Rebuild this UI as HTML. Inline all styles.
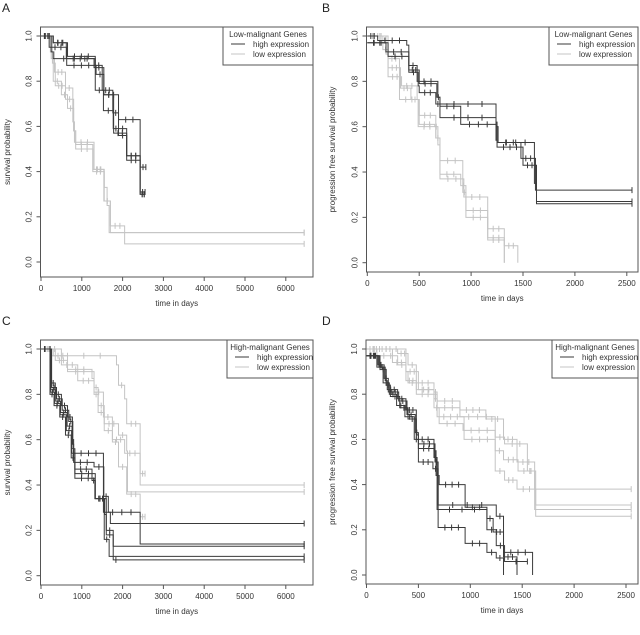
<!DOCTYPE html>
<html><head><meta charset="utf-8">
<style>
html,body{margin:0;padding:0;background:#fff;}
svg{display:block;font-family:"Liberation Sans",sans-serif;}
</style></head>
<body>
<svg id="fig" width="640" height="635" viewBox="0 0 640 635"></svg>
<script>
// ---------- DATA ----------
const aHighTimes = [[0,300,650,1330,1500,1760,1900,2100,2430],[0,250,300,1330,1530,1770,1900,2100,2430],[0,200,630,1350,1540,1900,2430],[0,300,620,1300,1540,1780,2100,2430]];
const aHighSurv  = [[1,0.97,0.91,0.87,0.76,0.66,0.59,0.47,0.30],[1,0.93,0.90,0.76,0.67,0.59,0.56,0.45,0.30],[1,0.95,0.87,0.83,0.74,0.63,0.31],[1,0.97,0.90,0.86,0.74,0.57,0.47,0.42]];
const aHighEnd   = [2530,2530,2550,2570];
const aLowTimes  = [[0,250,300,500,650,800,850,1270,1540,1700,2050],[0,230,330,600,780,820,1300,1550,1620,1670],[0,280,350,600,800,850,1270,1550,1700]];
const aLowSurv   = [[1,0.90,0.80,0.74,0.68,0.58,0.52,0.41,0.27,0.16,0.08],[1,0.93,0.84,0.77,0.62,0.53,0.41,0.33,0.25,0.13],[1,0.88,0.78,0.72,0.58,0.50,0.40,0.27,0.13]];
const aLowEnd    = [6450,6450,6450];
const bHighTimes = [[0,180,400,480,680,700,1240,1250,1610,1630],[0,200,400,490,500,660,700,1240,1250,1500,1630],[0,100,380,400,500,670,700,900,1240,1260,1480,1620]];
const bHighSurv  = [[0.97,0.93,0.87,0.80,0.73,0.70,0.62,0.53,0.35,0.26],[0.97,0.91,0.84,0.78,0.75,0.70,0.64,0.54,0.51,0.43,0.27],[1,0.98,0.96,0.85,0.79,0.73,0.69,0.61,0.60,0.53,0.46,0.32]];
const bHighEnd   = [2550,2550,2550];
const bLowTimes  = [[0,150,200,320,420,500,650,680,700,900,950,1160,1320],[0,180,200,330,480,500,660,700,920,950,1160,1320,1450],[0,200,310,490,660,700,930,1160,1320]];
const bLowSurv   = [[1,0.94,0.86,0.77,0.72,0.61,0.60,0.52,0.39,0.34,0.23,0.11,0],[1,0.92,0.82,0.78,0.72,0.65,0.55,0.45,0.31,0.20,0.10,0.075,0],[1,0.90,0.72,0.60,0.55,0.37,0.29,0.15,0]];
const bLowEnd    = [1320,1450,1320];
const cHighTimes = [[0,180,250,350,500,650,770,800,1530,2430],[0,180,260,380,520,680,780,800,1300,1540,1650,1700],[0,180,240,360,480,640,760,830,1250,1330,1560,1600,1770],[0,180,230,330,470,620,750,830,1330,1550,1670],[0,180,220,320,460,600,740,830,1320,1600,1770,1900]];
const cHighSurv  = [[1,1,0.85,0.80,0.75,0.70,0.60,0.54,0.28,0.14],[1,1,0.83,0.78,0.73,0.68,0.58,0.50,0.48,0.35,0.28,0.23],[1,1,0.82,0.77,0.72,0.66,0.56,0.47,0.42,0.34,0.27,0.20,0.13],[1,1,0.81,0.76,0.71,0.64,0.54,0.45,0.34,0.16,0.085],[1,1,0.80,0.75,0.70,0.62,0.52,0.43,0.34,0.18,0.07,0.07]];
const cHighEnd   = [6450,6450,6450,6450,6450];
const cLowTimes  = [[0,250,1850,1900,2050,2100,2430],[0,350,650,1250,1300,1400,1550,1900,2100,2120],[0,500,900,1300,1400,1550,1750,1900,2100,2430],[0,300,650,1250,1300,1530,1750,2050,2430]];
const cLowSurv   = [[1,0.97,0.93,0.84,0.78,0.67,0.40],[1,0.95,0.90,0.87,0.80,0.75,0.67,0.62,0.55,0.37],[1,0.93,0.86,0.83,0.72,0.64,0.59,0.48,0.36,0.26],[1,0.97,0.91,0.90,0.81,0.70,0.60,0.54,0.45]];
const cLowEnd    = [6450,6450,2550,2550];
const dHighTimes = [[0,120,180,200,300,380,480,500,650,670,700,950,1160,1220,1320,1450],[0,110,170,210,310,390,470,500,660,690,1250,1320,1600],[0,100,160,220,290,370,460,500,640,690,950,1160,1250,1320],[0,130,190,230,320,400,480,650,680,1160,1250,1330]];
const dHighSurv  = [[0.97,0.92,0.86,0.82,0.78,0.73,0.62,0.56,0.55,0.44,0.40,0.30,0.25,0.19,0.08,0],[0.97,0.93,0.87,0.81,0.77,0.71,0.63,0.58,0.50,0.31,0.26,0.10,0],[0.97,0.92,0.85,0.80,0.75,0.70,0.60,0.50,0.47,0.21,0.14,0.10,0.075,0],[0.97,0.91,0.84,0.79,0.74,0.69,0.60,0.52,0.29,0.20,0.13,0.06]];
const dHighEnd   = [1450,1600,1320,1550];
const dLowTimes  = [[0,100,300,380,400,480,650,680,900,1150,1320,1450,1620],[0,250,380,480,650,700,930,1240,1330,1550,1620],[0,380,500,650,680,940,1240,1330,1450,1630],[0,300,400,480,650,680,900,1240,1320,1460,1630]];
const dLowSurv   = [[1,0.97,0.93,0.90,0.85,0.82,0.81,0.77,0.73,0.69,0.60,0.50,0.38],[1,0.94,0.86,0.80,0.74,0.67,0.64,0.61,0.58,0.46,0.29],[1,0.90,0.82,0.80,0.70,0.60,0.46,0.42,0.38,0.26],[1,0.98,0.93,0.85,0.78,0.74,0.70,0.55,0.51,0.46,0.31]];
const dLowEnd    = [2550,2550,2550,2550];
const xTicksLong  = [0,1000,2000,3000,4000,5000,6000];
const xTicksShort = [0,500,1000,1500,2000,2500];
const yTicks = [0,0.2,0.4,0.6,0.8,1.0];
const yTickLabels = ["0.0","0.2","0.4","0.6","0.8","1.0"];

// ---------- LAYOUT ----------
const NS = "http://www.w3.org/2000/svg";
const svg = document.getElementById('fig');
function mk(tag, attrs, parent){ const e=document.createElementNS(NS,tag); for(const k in attrs) e.setAttribute(k,attrs[k]); (parent||svg).appendChild(e); return e; }
const DARK="#3a3a3a", LIGHT="#c4c4c4";

const panels = [
 {id:'a', letter:'A', box:[40.5,27,313,277], x0:41, xs:40.8/1000, y1:36, y0:262, xt:xTicksLong, ylab:'survival probability', ylx:10, title:'Low-malignant Genes', leg:[223,27,313,65], hT:aHighTimes,hS:aHighSurv,hE:aHighEnd,lT:aLowTimes,lS:aLowSurv,lE:aLowEnd},
 {id:'b', letter:'B', box:[366.5,27,638,272], x0:367.3, xs:51.9/500, y1:36, y0:262.7, xt:xTicksShort, ylab:'progression free survival probability', ylx:335, title:'Low-malignant Genes', leg:[549,27,638,65], hT:bHighTimes,hS:bHighSurv,hE:bHighEnd,lT:bLowTimes,lS:bLowSurv,lE:bLowEnd},
 {id:'c', letter:'C', box:[40.5,340,313,585], x0:41, xs:40.8/1000, y1:349, y0:575.7, xt:xTicksLong, ylab:'survival probability', ylx:10, title:'High-malignant Genes', leg:[227,340,313,378], hT:cHighTimes,hS:cHighSurv,hE:cHighEnd,lT:cLowTimes,lS:cLowSurv,lE:cLowEnd},
 {id:'d', letter:'D', box:[366,340,638,584], x0:366.5, xs:51.9/500, y1:349, y0:575, xt:xTicksShort, ylab:'progression free survival probability', ylx:335, title:'High-malignant Genes', leg:[552,340,638,378], hT:dHighTimes,hS:dHighSurv,hE:dHighEnd,lT:dLowTimes,lS:dLowSurv,lE:dLowEnd}
];

panels.forEach(p=>{
  const g = mk('g',{});
  
  
  const X = t => p.x0 + t*p.xs;
  const Y = s => p.y0 + s*(p.y1-p.y0);
  const [bx1,by1,bx2,by2]=p.box;
  const lt = mk('text',{x:bx1===40.5?2:322,y:by1-15,'font-size':12,fill:'#222'},g);
  lt.textContent=p.letter;
  
  

  function drawCurve(times, surv, end, color, name){
    let d = 'M'+X(times[0])+','+Y(surv[0]);
    for(let i=1;i<times.length;i++){ d+=' H'+X(times[i])+' V'+Y(surv[i]); }
    const last=surv[surv.length-1];
    if(last>0) d+=' H'+X(end);
    const path = mk('path',{d:d,fill:'none',stroke:color,'stroke-width':1},g);
    
    
    let md='';
    for(let i=0;i<times.length-1;i++){
      const t0=times[i], t1=times[i+1];
      const w=X(t1)-X(t0); if(w<=3) continue;
      const n = w>25 ? 3 : (w>10 ? 2 : 1);
      for(let k=1;k<=n;k++){
        const xx = X(t0)+ w*k/(n+1);
        md+=' M'+xx.toFixed(1)+','+(Y(surv[i])-3)+' v6';
      }
    }
    if(last>0){
      const tl=times[times.length-1];
      if(end-tl<400){ md+=' M'+((X(tl)+X(end))/2).toFixed(1)+','+(Y(last)-3)+' v6'; }
      md+=' M'+X(end)+','+(Y(last)-3)+' v6';
    }
    const marks = mk('path',{d:md,fill:'none',stroke:color,'stroke-width':1},g);
    
    
  }
  p.lT.forEach((t,i)=>drawCurve(t,p.lS[i],p.lE[i],LIGHT,'low-expression-curve-'+(i+1)));
  p.hT.forEach((t,i)=>drawCurve(t,p.hS[i],p.hE[i],DARK,'high-expression-curve-'+(i+1)));

  const box = mk('rect',{x:bx1,y:by1,width:bx2-bx1,height:by2-by1,fill:'none',stroke:'#555','stroke-width':1},g);
  
  

  p.xt.forEach(v=>{
    const x=X(v);
    mk('line',{x1:x,x2:x,y1:by2,y2:by2+4,stroke:'#555'},g);
    const t=mk('text',{x:x,y:by2+14,'font-size':8,'text-anchor':'middle',fill:'#333'},g);
    t.textContent=v;
    
    
  });
  const xt=mk('text',{x:(bx1+bx2)/2,y:by2+29,'font-size':8,'text-anchor':'middle',fill:'#333'},g);
  xt.textContent='time in days';
  
  
  yTicks.forEach((v,i)=>{
    const y=Y(v);
    mk('line',{x1:bx1-4,x2:bx1,y1:y,y2:y,stroke:'#555'},g);
    const tx=bx1-9;
    const t=mk('text',{x:tx,y:y,'font-size':8,'text-anchor':'middle',fill:'#333',transform:'rotate(-90 '+tx+' '+y+')'},g);
    t.textContent=yTickLabels[i];
    
    
  });
  const ym=(by1+by2)/2;
  const yt=mk('text',{x:p.ylx,y:ym,'font-size':8,'text-anchor':'middle',fill:'#333',transform:'rotate(-90 '+p.ylx+' '+ym+')'},g);
  yt.textContent=p.ylab;
  
  

  const [lx1,ly1,lx2,ly2]=p.leg;
  const lg=mk('g',{},g);
  
  
  mk('rect',{x:lx1,y:ly1,width:lx2-lx1,height:ly2-ly1,fill:'#fff',stroke:'#555'},lg);
  const tt=mk('text',{x:(lx1+lx2)/2,y:ly1+10,'font-size':8,'text-anchor':'middle',fill:'#333'},lg);
  tt.textContent=p.title;
  [['high expression',DARK],['low expression',LIGHT]].forEach((e,i)=>{
    const yy=ly1+20+i*10;
    const en=mk('g',{},lg);
    
    
    mk('line',{x1:lx1+8,x2:lx1+22,y1:yy-3,y2:yy-3,stroke:e[1]},en);
    const et=mk('text',{x:lx1+30,y:yy,'font-size':8,fill:'#333'},en);
    et.textContent=e[0];
  });
});
</script>
</body></html>
